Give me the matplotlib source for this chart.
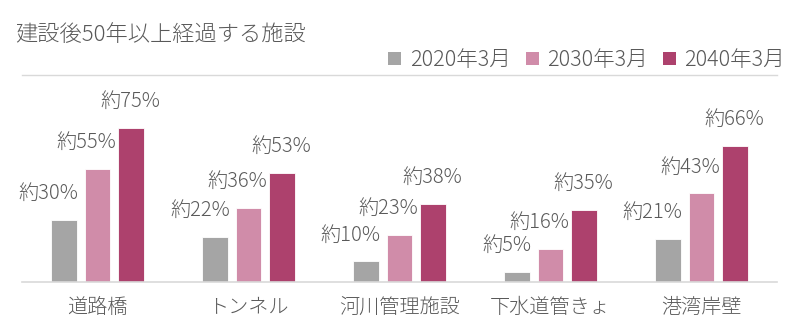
import matplotlib
matplotlib.use("Agg")
import matplotlib.pyplot as plt
import numpy as np
from matplotlib.lines import Line2D
from matplotlib.patches import Patch

plt.rcParams['font.family'] = ['Noto Sans CJK JP', 'DejaVu Sans']
plt.rcParams['font.weight'] = 'light'

title = "建設後50年以上経過する施設"
categories = ["道路橋", "トンネル", "河川管理施設", "下水道管きょ", "港湾岸壁"]
series_names = ["2020年3月", "2030年3月", "2040年3月"]
v2020 = [30, 22, 10, 5, 21]
v2030 = [55, 36, 23, 16, 43]
v2040 = [75, 53, 38, 35, 66]
colors = ["#a5a5a5", "#d08ca9", "#ad416d"]
text_color = "#595959"

W, H = 800, 327
fig = plt.figure(figsize=(W/100, H/100), dpi=100)
ax_left, ax_right = 22, 777
base_y = 282
px_per_unit = 2.06
ymax = 80
ax = fig.add_axes([ax_left/W, (H-base_y)/H, (ax_right-ax_left)/W, ymax*px_per_unit/H])

x = np.arange(len(categories))
width = 0.172
step = 0.22
all_vals = [v2020, v2030, v2040]
lfs = 14.5
for i, (vals, c) in enumerate(zip(all_vals, colors)):
    xs = x + (i-1)*step
    ax.bar(xs, vals, width=width, color=c, edgecolor='white', linewidth=0.6, zorder=2)
    for xi, v in zip(xs, vals):
        lbl = f"約{v}%"
        if i == 0:
            ax.annotate(lbl, (xi + width/2, v), xytext=(1, 19), textcoords='offset points',
                        ha='right', va='center', fontsize=lfs, color=text_color, annotation_clip=False)
        elif i == 1:
            ax.annotate(lbl, (xi + width/2, v), xytext=(4, 19), textcoords='offset points',
                        ha='right', va='center', fontsize=lfs, color=text_color, annotation_clip=False)
        else:
            ax.annotate(lbl, (xi, v), xytext=(0, 19), textcoords='offset points',
                        ha='center', va='center', fontsize=lfs, color=text_color, annotation_clip=False)

ax.set_xlim(-0.5, len(categories)-0.5)
ax.set_ylim(0, ymax)
ax.set_xticks(x)
ax.set_xticklabels(categories, fontsize=14.5, color=text_color)
ax.tick_params(axis='x', length=0, pad=11)
ax.set_yticks([])
for s in ['top', 'right', 'left']:
    ax.spines[s].set_visible(False)
ax.spines['bottom'].set_color('#d9d9d9')
ax.spines['bottom'].set_linewidth(1.2)
ax.patch.set_alpha(0)

fig.text(15/W, 1-35/H, title, fontsize=16, color=text_color, va='center', ha='left')
fig.add_artist(Line2D([22/W, 777/W], [1-74.5/H, 1-74.5/H], color='#d9d9d9', linewidth=1.0))

handles = [Patch(facecolor=c, edgecolor='none') for c in colors]
leg = fig.legend(handles, series_names, loc='center right', bbox_to_anchor=(785/W, 1-60/H),
                 ncol=3, frameon=False, fontsize=15.5, handlelength=0.6, handleheight=0.6,
                 handletextpad=0.4, columnspacing=0.7, borderaxespad=0, borderpad=0)
for t in leg.get_texts():
    t.set_color(text_color)

fig.savefig("out.png", dpi=100, facecolor='white')
